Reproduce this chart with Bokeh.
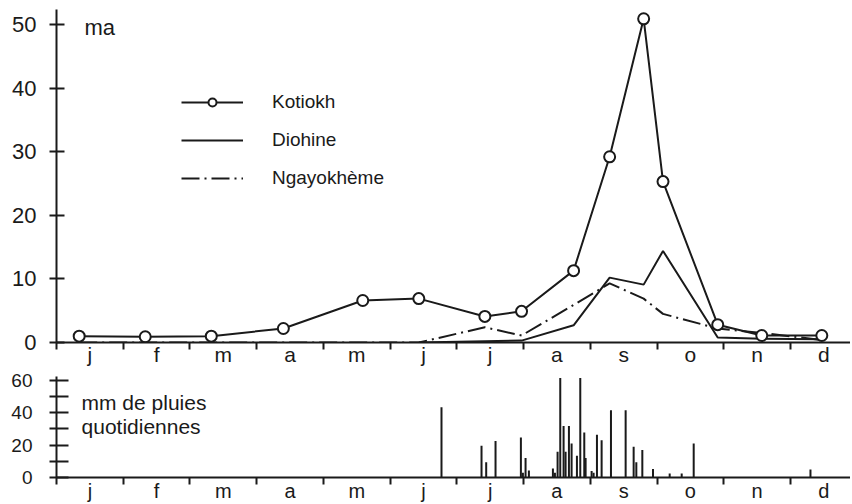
from bokeh.plotting import figure
from bokeh.layouts import column
from bokeh.models import Range1d, FixedTicker, Legend, LegendItem, Label
from bokeh.embed import file_html
from bokeh.resources import INLINE

# ---- data (x in months from 1 January; 0 = Jan 1) ----
months = ["j", "f", "m", "a", "m", "j", "j", "a", "s", "o", "n", "d"]

dates = [0.34, 1.33, 2.32, 3.40, 4.59, 5.43, 6.42, 6.97, 7.75, 8.29, 8.80, 9.09, 9.91, 10.57, 11.47]
kotiokh = [1.0, 0.9, 1.0, 2.2, 6.6, 6.9, 4.1, 4.9, 11.3, 29.2, 50.9, 25.3, 2.8, 1.1, 1.1]
ngayokheme = [0, 0, 0, 0, 0, 0, 2.4, 1.1, 5.9, 9.3, 6.9, 4.5, 2.2, 1.5, 0.4]

dates_dio = [5.43, 6.42, 6.97, 7.75, 8.29, 8.80, 9.09, 9.91, 10.57, 11.47]
diohine = [0, 0.2, 0.3, 2.7, 10.2, 9.1, 14.4, 0.8, 0.6, 0.5]

rain_day = [5.77, 6.37, 6.44, 6.58, 6.96, 6.99, 7.03, 7.08, 7.44, 7.47, 7.51, 7.55,
            7.60, 7.63, 7.68, 7.72, 7.80, 7.85, 7.91, 7.93, 8.02, 8.05, 8.10, 8.17,
            8.31, 8.53, 8.65, 8.69, 8.78, 8.94, 9.19, 9.37, 9.55, 11.30]
rain_mm = [43.5, 19.6, 9.4, 22.6, 24.7, 3, 12, 4.3, 5.5, 3, 16, 61.5,
           31.8, 16, 31.8, 21, 13.5, 61.5, 27.8, 12, 4, 3, 26.5, 23,
           41.6, 41.6, 19, 9.4, 17, 5.3, 2.5, 2.5, 21, 5]

top_ticks = [0, 10, 20, 30, 40, 50]
rain_ticks = [0, 20, 40, 60]
rain_minor = [10, 30, 50]

INK = "#1a1a1a"
FONT = "Liberation Sans"

mids = [i + 0.5 for i in range(12)]
bounds = list(range(0, 13))
overrides = {m: lab for m, lab in zip(mids, months)}


def style_x(ax, size, standoff):
    ax.ticker = FixedTicker(ticks=mids, minor_ticks=bounds)
    ax.major_label_overrides = overrides
    ax.major_tick_out = 0
    ax.major_tick_in = 0
    ax.minor_tick_out = 7
    ax.minor_tick_in = 0
    ax.minor_tick_line_width = 2
    ax.minor_tick_line_color = INK
    ax.axis_line_width = 2
    ax.axis_line_color = INK
    ax.major_label_text_font = FONT
    ax.major_label_text_font_size = size
    ax.major_label_text_color = INK
    ax.major_label_standoff = standoff


# ---------------- top panel ----------------
p1 = figure(frame_width=794, frame_height=333, output_backend="svg", toolbar_location=None,
            x_range=Range1d(0, 11.9), y_range=Range1d(0, 52.36),
            min_border_left=56, min_border_right=0, min_border_top=9, min_border_bottom=0)
p1.outline_line_color = None
p1.xgrid.visible = False
p1.ygrid.visible = False
style_x(p1.xaxis[0], "21px", -7)
ya = p1.yaxis[0]
ya.ticker = FixedTicker(ticks=top_ticks)
ya.major_tick_out = 7
ya.major_tick_in = 8
ya.major_tick_line_width = 2
ya.major_tick_line_color = INK
ya.minor_tick_line_color = None
ya.axis_line_width = 2
ya.axis_line_color = INK
ya.major_label_text_font = FONT
ya.major_label_text_font_size = "22px"
ya.major_label_text_color = INK
ya.major_label_standoff = 13

r_ng = p1.line(dates, ngayokheme, line_color=INK, line_width=2, line_dash="18 5 2 5")
r_di = p1.line(dates_dio, diohine, line_color=INK, line_width=2)
r_ko = p1.line(dates, kotiokh, line_color=INK, line_width=2)
r_kos = p1.scatter(dates, kotiokh, marker="circle", size=11, fill_color="white",
                   line_color=INK, line_width=2)

legend = Legend(items=[LegendItem(label="Kotiokh", renderers=[r_ko, r_kos]),
                       LegendItem(label="Diohine", renderers=[r_di]),
                       LegendItem(label="Ngayokhème", renderers=[r_ng])],
                location=(125, 153), padding=0, margin=0, spacing=16,
                glyph_width=62, glyph_height=20, label_height=20, label_standoff=29,
                border_line_color=None, background_fill_alpha=0,
                label_text_font=FONT, label_text_font_size="19px", label_text_color=INK)
p1.add_layout(legend)

p1.add_layout(Label(x=0.42, y=49.6, text="ma", text_font=FONT, text_font_size="22px",
                    text_color=INK, text_baseline="middle"))

# ---------------- bottom panel ----------------
p2 = figure(frame_width=794, frame_height=101, output_backend="svg", toolbar_location=None,
            x_range=Range1d(0, 11.9), y_range=Range1d(0, 62.47),
            min_border_left=56, min_border_right=0, min_border_top=8, min_border_bottom=0)
p2.outline_line_color = None
p2.xgrid.visible = False
p2.ygrid.visible = False
style_x(p2.xaxis[0], "20px", -5)
yb = p2.yaxis[0]
yb.ticker = FixedTicker(ticks=rain_ticks, minor_ticks=rain_minor)
yb.major_tick_out = 7
yb.major_tick_in = 12
yb.minor_tick_out = 7
yb.minor_tick_in = 12
yb.major_tick_line_width = 2
yb.minor_tick_line_width = 2
yb.major_tick_line_color = INK
yb.minor_tick_line_color = INK
yb.axis_line_width = 2
yb.axis_line_color = INK
yb.major_label_text_font = FONT
yb.major_label_text_font_size = "19px"
yb.major_label_text_color = INK
yb.major_label_standoff = 17

p2.vbar(x=rain_day, top=rain_mm, width=0.03, fill_color=INK, line_color=None)

p2.add_layout(Label(x=0.375, y=46.4, text="mm de pluies", text_font=FONT, text_font_size="21px",
                    text_color=INK, text_baseline="alphabetic"))
p2.add_layout(Label(x=0.375, y=31.5, text="quotidiennes", text_font=FONT, text_font_size="21px",
                    text_color=INK, text_baseline="alphabetic"))

lay = column(p1, p2, spacing=0)
open("out.html", "w").write(file_html(lay, INLINE))
